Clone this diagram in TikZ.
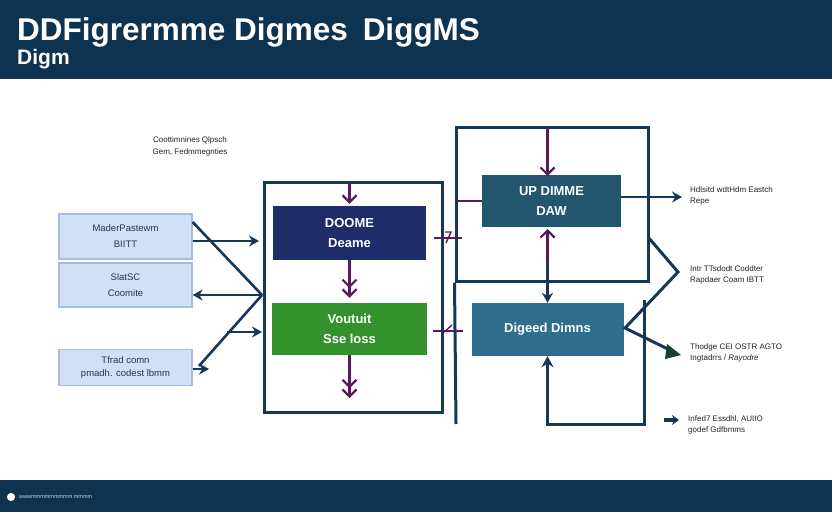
\documentclass[tikz,border=0pt]{standalone}
\usepackage{fontspec}
\setmainfont{Liberation Sans}
\usetikzlibrary{arrows.meta}
\definecolor{hdr}{HTML}{0E3350}
\definecolor{navy}{HTML}{14375A}
\definecolor{purp}{HTML}{5A1A5C}
\definecolor{indigo}{HTML}{1F2C6A}
\definecolor{grn}{HTML}{33922C}
\definecolor{teal1}{HTML}{24566F}
\definecolor{teal2}{HTML}{2F6E8D}
\definecolor{lfill}{HTML}{CFE0F7}
\definecolor{lborder}{HTML}{A3BEE2}
\definecolor{ltext}{HTML}{283452}
\definecolor{gtext}{HTML}{222222}
\begin{document}
\begin{tikzpicture}[x=1pt,y=-1pt,
  lbox/.style={draw=lborder, line width=1.2, fill=lfill, text=ltext, align=center, font=\fontsize{9.5}{13}\selectfont, inner sep=0},
  dbox/.style={text=white, align=center, font=\bfseries\fontsize{13}{20}\selectfont, inner sep=0},
  frm/.style={draw=navy, line width=3, inner sep=0},
  nline/.style={draw=navy, line width=2.6},
  narr/.style={nline, -{Stealth[length=10pt,width=11pt]}},
  pbarb/.tip={Straight Barb[length=7pt,width=14pt,line width=2.2pt]},
  parr/.style={draw=purp, line width=2.6, -{pbarb[sep=0pt]pbarb}},
  lbl/.style={anchor=west, text=gtext, align=left, font=\fontsize{8}{11}\selectfont, inner sep=0}
]
\useasboundingbox (0,0) rectangle (832,512);
% header and footer
\fill[hdr] (0,0) rectangle (832,79);
\node[anchor=base west, font=\bfseries\fontsize{31.5}{32}\selectfont, text=white, inner sep=0] (title) at (17,40) {DDFigrermme Digmes\hspace{6pt} DiggMS};
\node[anchor=base west, font=\bfseries\fontsize{21}{22}\selectfont, text=white, inner sep=0] (sub) at (17,64) {Digm};
\fill[hdr] (0,480) rectangle (832,512);
\node[circle, fill=white, draw=hdr, line width=1.5, minimum size=10, inner sep=0] (icon) at (11,497) {};
\node[anchor=west, text=white!80!hdr, font=\fontsize{5.5}{6}\selectfont, inner sep=0] (foot) at (19,497) {wwwmmmmmmmmm mmmm};
% top note
\node[align=center, text=gtext, font=\fontsize{8}{12}\selectfont, inner sep=0] (note) at (190,146) {Coottimnines Qlpsch\\Gem, Fedmmegnties};
% left boxes
\node[lbox, minimum width=133, minimum height=45] (b1) at (125.5,236.5) {MaderPastewm\\[3pt]BIITT};
\node[lbox, minimum width=133, minimum height=44] (b2) at (125.5,285) {SlatSC\\[3pt]Coomite};
\node[lbox, minimum width=133, minimum height=36] (b3) at (125.5,367.5) {Tfrad comn\\pmadh. codest lbmm};
% middle frame
\node[frm, minimum width=178, minimum height=230] (mid) at (353.5,297.5) {};
\node[dbox, fill=indigo, minimum width=153, minimum height=54] (doome) at (349.5,233) {DOOME\\Deame};
\node[dbox, fill=grn, minimum width=155, minimum height=52] (green) at (349.5,329) {Voutuit\\Sse loss};
\coordinate (m1) at (349.5,183);
\coordinate (m2) at (349.5,398);
\draw[draw=purp, line width=2.6, -{pbarb}] (m1) -- ([yshift=2]doome.north);
\draw[parr] (doome.south) -- ([yshift=5]green.north);
\draw[parr] (green.south) -- (m2);
% right upper frame
\node[frm, minimum width=192, minimum height=154] (up) at (552,204) {};
\coordinate (upl) at (456,424);
\draw[nline, line width=3] (up.south west) -- (upl);
\node[dbox, fill=teal1, minimum width=139, minimum height=52] (updim) at (551.5,201) {UP DIMME\\DAW};
\node[dbox, fill=teal2, minimum width=152, minimum height=53, font=\bfseries\fontsize{13}{16}\selectfont] (dig) at (547.5,329.5) {Digeed Dimns};
\coordinate (u0) at (547.5,128);
\coordinate (u1) at (547.5,176);
\coordinate (u2) at (547.5,229);
\coordinate (u3) at (547.5,262);
\draw[draw=purp, line width=2.6, -{pbarb}] (u0) -- (u1);
\draw[draw=purp, line width=2.4] (updim.west) -- (updim.west -| up.west);
\draw[draw=purp, line width=2.6, {pbarb}-] (u2) -- (u3);
\draw[narr] (u3) -- (dig.north);
% markers between frames
\coordinate (k1) at (448,238);
\coordinate (k2) at (448,331);
\draw[purp, line width=1.6] ([xshift=-14]k1) -- ([xshift=14]k1);
\draw[purp, line width=1.4] ([shift={(-3,-6)}]k1) -- ([shift={(3,-6)}]k1) -- ([shift={(-2,5)}]k1);
\draw[purp, line width=1.6] ([xshift=-15]k2) -- ([xshift=15]k2);
\draw[purp, line width=1.4] ([shift={(4,-6)}]k2) -- ([shift={(-5,2)}]k2);
% bottom loop
\coordinate (r1) at (644,300);
\coordinate (r2) at (644,424);
\coordinate (r3) at (547.5,424);
\draw[nline, line width=3, -{Stealth[length=11pt,width=12pt]}] (r1) -- (r2) -- (r3) -- (dig.south);
% left arrows
\coordinate (J) at (262,295);
\coordinate (d1) at (199,366);
\coordinate (h1) at (227,332);
\draw[narr] ([yshift=-4.5]b1.east) -- (259,241);
\draw[nline] ([yshift=14.5]b1.east) -- (J);
\draw[narr] (J) -- ([yshift=-10]b2.east);
\draw[nline] (J) -- (d1);
\draw[narr] ([yshift=-1.5]b3.east) -- (209,369);
\draw[narr] (h1) -- (262,332);
% right arrows and labels
\draw[narr] (621,197) -- (682,197);
\node[lbl] (t1) at (690,196) {Hdlsitd wdtHdm Eastch\\Repe};
\coordinate (z1) at (648,237);
\coordinate (z2) at (678,272);
\coordinate (z3) at (625,328);
\draw[nline, line width=3, line join=miter] (z1) -- (z2) -- (z3) -- (676,353);
\fill[navy!60!grn!70!black] (681,355) -- (667,344) -- (665,359) -- cycle;
\node[lbl] (t2) at (690,275) {Intr TTsdodt Coddter\\Rapdaer Coam IBTT};
\node[lbl] (t3) at (690,353) {Thodge CEI OSTR AGTO\\Ingtadrrs / \textit{Rayodre}};
\coordinate (s1) at (664,420);
\draw[nline, line width=3.5, -{Stealth[length=7pt,width=10pt]}] (s1) -- (679,420);
\node[lbl] (t4) at (688,425) {Infed7 Essdhl, AUIIO\\godef Gdfbmms};
\end{tikzpicture}
\end{document}
